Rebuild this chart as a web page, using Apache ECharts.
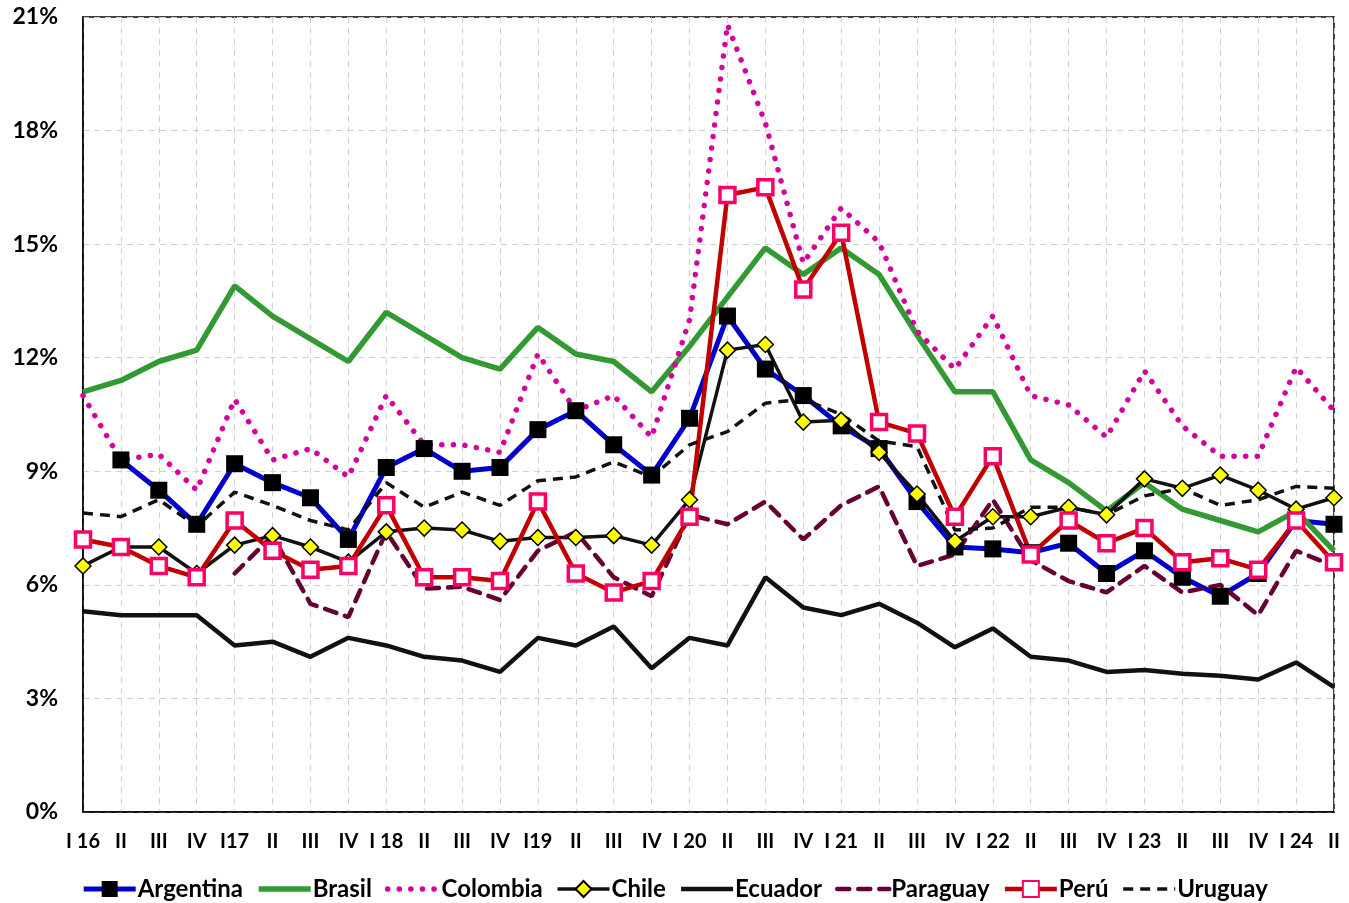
<!DOCTYPE html>
<html>
<head>
<meta charset="utf-8">
<script src="https://cdn.jsdelivr.net/npm/echarts@6/dist/echarts.min.js"></script>
<style>
html,body{margin:0;padding:0;background:#fff;}
#chart{width:1349px;height:903px;}
</style>
</head>
<body>
<div id="chart"></div>
<script>
const categories = ['I 16','II','III','IV','I17','II','III','IV','I 18','II','III','IV','I19','II','III','IV','I 20','II','III','IV','I 21','II','III','IV','I 22','II','III','IV','I 23','II','III','IV','I 24','II'];
const argentina = [null, 9.3, 8.5, 7.6, 9.2, 8.7, 8.3, 7.2, 9.1, 9.6, 9.0, 9.1, 10.1, 10.6, 9.7, 8.9, 10.4, 13.1, 11.7, 11.0, 10.2, 9.6, 8.2, 7.0, 6.95, 6.85, 7.1, 6.3, 6.9, 6.2, 5.7, 6.3, 7.7, 7.6];
const brasil = [11.1, 11.4, 11.9, 12.2, 13.9, 13.1, 12.5, 11.9, 13.2, 12.6, 12.0, 11.7, 12.8, 12.1, 11.9, 11.1, 12.3, 13.6, 14.9, 14.2, 14.9, 14.2, 12.6, 11.1, 11.1, 9.3, 8.7, 7.95, 8.7, 8.0, 7.7, 7.4, 7.95, 6.9];
const colombia = [11.0, 9.3, 9.45, 8.5, 10.9, 9.3, 9.6, 8.85, 11.0, 9.7, 9.7, 9.5, 12.1, 10.6, 11.0, 9.9, 13.0, 20.8, 18.2, 14.5, 15.95, 15.05, 12.7, 11.7, 13.1, 11.0, 10.75, 9.9, 11.65, 10.2, 9.4, 9.4, 11.75, 10.6];
const chile = [6.5, 7.0, 7.0, 6.3, 7.05, 7.3, 7.0, 6.6, 7.4, 7.5, 7.45, 7.15, 7.25, 7.25, 7.3, 7.05, 8.25, 12.2, 12.35, 10.3, 10.35, 9.5, 8.4, 7.15, 7.8, 7.8, 8.05, 7.85, 8.8, 8.55, 8.9, 8.5, 8.0, 8.3];
const ecuador = [5.3, 5.2, 5.2, 5.2, 4.4, 4.5, 4.1, 4.6, 4.4, 4.1, 4.0, 3.7, 4.6, 4.4, 4.9, 3.8, 4.6, 4.4, 6.2, 5.4, 5.2, 5.5, 5.0, 4.35, 4.85, 4.1, 4.0, 3.7, 3.75, 3.65, 3.6, 3.5, 3.95, 3.3];
const paraguay = [null, null, null, null, 6.3, 7.3, 5.5, 5.15, 7.4, 5.9, 5.95, 5.6, 6.9, 7.4, 6.2, 5.7, 7.85, 7.6, 8.2, 7.2, 8.1, 8.6, 6.5, 6.8, 8.25, 6.65, 6.1, 5.8, 6.5, 5.8, 6.0, 5.2, 6.9, 6.5];
const peru = [7.2, 7.0, 6.5, 6.2, 7.7, 6.9, 6.4, 6.5, 8.1, 6.2, 6.2, 6.1, 8.2, 6.3, 5.8, 6.1, 7.8, 16.3, 16.5, 13.8, 15.3, 10.3, 10.0, 7.8, 9.4, 6.8, 7.7, 7.1, 7.5, 6.6, 6.7, 6.4, 7.7, 6.6];
const uruguay = [7.9, 7.8, 8.25, 7.55, 8.45, 8.1, 7.7, 7.45, 8.7, 8.05, 8.45, 8.1, 8.75, 8.85, 9.25, 8.85, 9.7, 10.05, 10.8, 10.9, 10.5, 9.8, 9.65, 7.45, 7.5, 8.05, 8.05, 7.85, 8.35, 8.55, 8.1, 8.25, 8.6, 8.55];

const FONT = 'Lato';
const chart = echarts.init(document.getElementById('chart'), null, {renderer: 'canvas'});

function line(name, data, color, width, type, extra) {
  return Object.assign({
    name: name,
    type: 'line',
    data: data,
    symbol: 'none',
    connectNulls: false,
    animation: false,
    lineStyle: {color: color, width: width, type: type},
    itemStyle: {color: color}
  }, extra || {});
}
const hidden = {color: 'rgba(0,0,0,0)', borderColor: 'rgba(0,0,0,0)', borderWidth: 0, opacity: 0};

const option = {
  animation: false,
  backgroundColor: '#fff',
  grid: {left: 83, right: 15, top: 17, bottom: 91, show: true, borderColor: '#000', borderWidth: 1.5, containLabel: false},
  xAxis: {
    type: 'category',
    data: categories,
    boundaryGap: false,
    axisLine: {lineStyle: {color: '#000', width: 1.5}},
    axisTick: {show: false},
    axisLabel: {interval: 0, color: '#000', fontFamily: FONT, fontWeight: 'bold', fontSize: 20, margin: 20},
    splitLine: {show: true, interval: 0, lineStyle: {color: '#d0d0d0', type: [6, 5], width: 1}}
  },
  yAxis: {
    type: 'value',
    min: 0, max: 21, interval: 3,
    axisLine: {show: true, lineStyle: {color: '#000', width: 1.5}},
    axisTick: {show: false},
    axisLabel: {formatter: '{value}%', color: '#000', fontFamily: FONT, fontWeight: 'bold', fontSize: 23, margin: 25},
    splitLine: {show: true, lineStyle: {color: '#d0d0d0', type: [6, 5], width: 1}}
  },
  legend: {
    top: 872,
    left: 'center',
    itemWidth: 52,
    itemHeight: 20,
    itemGap: 13,
    lineStyle: {width: 'inherit'},
    textStyle: {color: '#000', fontFamily: FONT, fontWeight: 'bold', fontSize: 24, padding: [0, 0, 0, -3]},
    data: [
      {name: 'Argentina'},
      {name: 'Brasil', itemStyle: hidden},
      {name: 'Colombia', itemStyle: hidden},
      {name: 'Chile'},
      {name: 'Ecuador', itemStyle: hidden},
      {name: 'Paraguay', itemStyle: hidden},
      {name: 'Perú'},
      {name: 'Uruguay', itemStyle: hidden}
    ]
  },
  series: [
    line('Argentina', argentina, '#0000cc', 5, 'solid', {
      symbol: 'rect', symbolSize: 17,
      itemStyle: {color: '#000', borderColor: '#000', borderWidth: 0}
    }),
    line('Brasil', brasil, '#339933', 5.5, 'solid'),
    line('Colombia', colombia, '#d6009b', 5.5, [0.1, 11.5], {
      lineStyle: {color: '#d6009b', width: 5.5, type: [0.1, 11.5], cap: 'round'}
    }),
    line('Chile', chile, '#111', 3.5, 'solid', {
      symbol: 'diamond', symbolSize: 16,
      itemStyle: {color: '#ffff00', borderColor: '#000', borderWidth: 1.5}
    }),
    line('Ecuador', ecuador, '#111', 4.5, 'solid'),
    line('Paraguay', paraguay, '#660033', 4.5, [12, 9], {
      lineStyle: {color: '#660033', width: 4.5, type: [12, 9], cap: 'round'}
    }),
    line('Perú', peru, '#c00000', 4.5, 'solid', {
      symbol: 'rect', symbolSize: 15,
      itemStyle: {color: '#fff', borderColor: '#ff0066', borderWidth: 3.5}
    }),
    line('Uruguay', uruguay, '#111', 3.5, [10, 7])
  ]
};
chart.setOption(option);
</script>
</body>
</html>
